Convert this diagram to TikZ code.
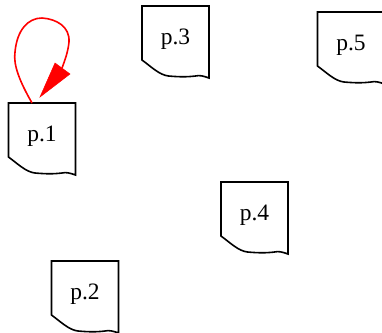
\documentclass[tikz,border=0pt]{standalone}
\usepackage{fontspec}
\setmainfont{Liberation Serif}
\usetikzlibrary{calc}
\tikzset{
  doclabel/.style={inner sep=0pt, font=\fontsize{23.5}{25}\selectfont},
  docline/.style={draw=black, line width=1.6pt, line join=miter},
  loopedge/.style={draw=red, line width=1.6pt},
  loophead/.style={fill=red, draw=red, line width=0.5pt, line join=miter}
}
\newcommand{\docshape}[1]{%
  \draw[docline] ($(#1)+(-33.5,21)$) -- ($(#1)+(-33.5,-33)$) -- ($(#1)+(33.5,-33)$) -- ($(#1)+(33.5,39)$)
    .. controls ($(#1)+(28,37)$) and ($(#1)+(24,36)$) .. ($(#1)+(20,37)$)
    .. controls ($(#1)+(12,38)$) and ($(#1)+(4,38)$) .. ($(#1)+(-7,37)$)
    .. controls ($(#1)+(-16,36)$) and ($(#1)+(-24,28)$) .. ($(#1)+(-33.5,21)$) -- cycle;}
\begin{document}
\begin{tikzpicture}[x=1pt,y=-1pt]
\useasboundingbox (0,0) rectangle (382,332);
\node[doclabel] (p1) at (42,136) {p.1};
\node[doclabel] (p3) at (175.5,39) {p.3};
\node[doclabel] (p5) at (351,45) {p.5};
\node[doclabel] (p4) at (254.5,215) {p.4};
\node[doclabel] (p2) at (85,294) {p.2};
\docshape{p1}
\docshape{p3}
\docshape{p5}
\docshape{p4}
\docshape{p2}
\coordinate (loopstart) at ($(p1)+(-10,-33)$);
\coordinate (loopend) at ($(p1)+(20,-68)$);
\coordinate (tip) at ($(p1)+(-2,-39)$);
\draw[loopedge] (loopstart) .. controls (20,82) and (13,65) .. (15,52)
  .. controls (17,30) and (28,18) .. (42,18)
  .. controls (57,19) and (70,27) .. (69,42)
  .. controls (68,52) and (65,60) .. (loopend);
\filldraw[loophead] (55,63) -- (70,74) -- (tip) -- cycle;
\end{tikzpicture}
\end{document}
